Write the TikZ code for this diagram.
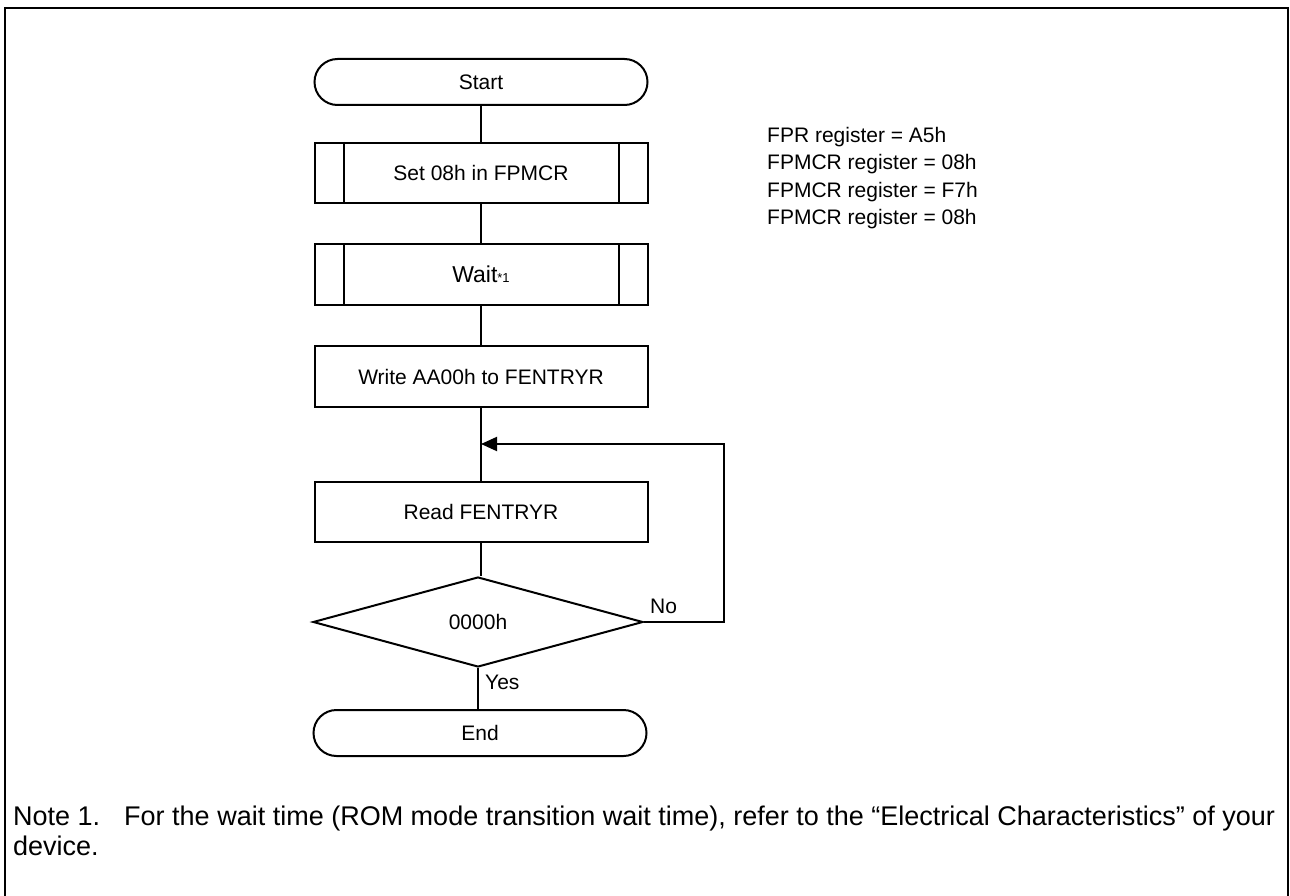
\documentclass[tikz,border=0pt]{standalone}
\usepackage{fontspec}
\setmainfont{Liberation Sans}
\usetikzlibrary{shapes.geometric,arrows.meta}
\newcommand{\boxfont}{\fontsize{21}{25}\selectfont}
\newcommand{\sidefont}{\fontsize{21}{27.3}\selectfont}
\newcommand{\notefont}{\fontsize{27}{30}\selectfont}
\tikzset{
  ln/.style={line width=2pt},
  term/.style={draw, line width=2pt, rounded corners=23pt, minimum width=333pt, minimum height=46pt, inner sep=0pt, font=\boxfont},
  proc/.style={draw, line width=2pt, minimum width=333pt, minimum height=61pt, inner sep=0pt, font=\boxfont},
  dec/.style={draw, line width=2pt, diamond, aspect=3.67, minimum width=330pt, minimum height=90pt, inner sep=0pt, font=\boxfont},
  lbl/.style={font=\boxfont, inner sep=0pt},
  arr/.style={ln, -{Triangle[length=16pt,width=14pt]}}
}
\begin{document}
\begin{tikzpicture}[x=1pt,y=-1pt]
\useasboundingbox (0,0) rectangle (1290,896);
\draw[ln] (5,900) coordinate (fbl) -- (5,8) coordinate (ftl) -- (1288,8) coordinate (ftr) -- (1288,900) coordinate (fbr);

\node[term] (start) at (481,82) {Start};
\node[proc, minimum height=60pt] (set) at (481,173) {Set 08h in FPMCR};
\node[proc] (wait) at (481,274.5) {\fontsize{23}{25}\selectfont Wait{\fontsize{13}{15}\selectfont *1}};
\node[proc] (write) at (481,376.5) {Write AA00h to FENTRYR};
\coordinate (join) at (481,444);
\node[proc, minimum height=60pt] (read) at (481,512) {Read FENTRYR};
\node[dec] (cond) at (478,622) {0000h};
\node[term] (end) at (480,733) {End};
\coordinate (loop) at (724,444);

\foreach \n in {set,wait}{
  \draw[ln] ([xshift=30pt]\n.north west) -- ([xshift=30pt]\n.south west);
  \draw[ln] ([xshift=-30pt]\n.north east) -- ([xshift=-30pt]\n.south east);
}

\draw[ln] (start) -- (set);
\draw[ln] (set) -- (wait);
\draw[ln] (wait) -- (write);
\draw[ln] (write) -- (read);
\draw[ln] (read.south) -- (read.south |- cond.north);
\draw[ln] (cond.south) -- (cond.south |- end.north);
\draw[arr] (cond.east) -| (loop) -- (join);

\node[lbl, anchor=south west] (no) at (650,614) {No};
\node[lbl, anchor=west] (yes) at (485,682) {Yes};

\node[anchor=north west, align=left, inner sep=0pt, font=\sidefont] (regs) at (767,127)
  {FPR register = A5h\\FPMCR register = 08h\\FPMCR register = F7h\\FPMCR register = 08h};

\node[anchor=north west, align=left, inner sep=0pt, font=\notefont] (note) at (13,806)
  {Note 1.\hspace{24pt}For the wait time (ROM mode transition wait time), refer to the “Electrical Characteristics” of your\\device.};
\end{tikzpicture}
\end{document}
